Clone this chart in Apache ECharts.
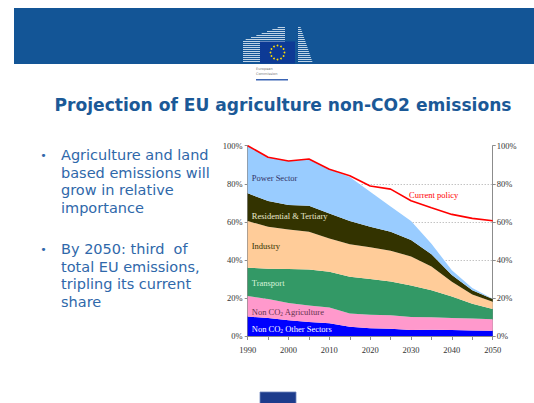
<!DOCTYPE html>
<html>
<head>
<meta charset="utf-8">
<script src="https://cdn.jsdelivr.net/npm/echarts@6/dist/echarts.min.js"></script>
<style>
  html, body { margin: 0; padding: 0; background: #ffffff; }
  #chart { width: 534px; height: 403px; }
</style>
</head>
<body>
<div id="chart"></div>
<script>
// Share of total EU greenhouse-gas emissions by sector (% of 1990 total), 5-year steps
const years = ['1990', '1995', '2000', '2005', '2010', '2015', '2020', '2025', '2030', '2035', '2040', '2045', '2050'];

// Stacked sector shares (bottom to top)
const otherSectors = [10.2, 9.4, 8.3, 7.3, 6.7, 4.8, 4.1, 3.8, 3.2, 3.3, 3.1, 2.9, 2.7];
const agriculture  = [10.8, 10.1, 9.0, 8.7, 8.3, 7.0, 7.1, 7.1, 6.8, 6.5, 6.4, 6.3, 6.1];
const transport    = [14.9, 15.9, 17.9, 18.9, 18.8, 19.4, 18.7, 17.7, 16.5, 14.2, 11.3, 7.8, 5.4];
const industry     = [24.5, 22.0, 20.7, 19.9, 17.5, 17.0, 16.7, 16.2, 15.3, 12.5, 7.7, 4.8, 3.8];
const residential  = [14.6, 13.5, 12.9, 13.7, 13.1, 12.2, 10.8, 10.0, 8.7, 6.5, 3.5, 2.2, 1.4];
const powerSector  = [25.0, 23.0, 23.2, 24.5, 23.2, 23.1, 18.4, 13.2, 9.9, 5.5, 2.5, 1.2, 0.2];

// Total emissions under current policy
const currentPolicy = [100, 93.9, 92.0, 93.0, 87.6, 84.2, 78.8, 77.2, 71.1, 67.4, 63.9, 61.8, 60.6];

const bulletOne = ['Agriculture and land', 'based emissions will', 'grow in relative', 'importance'];
const bulletTwo = ['By 2050: third  of', 'total EU emissions,', 'tripling its current', 'share'];

const serif = 'Liberation Serif';
const axisGrey = '#8c8c8c';

const chart = echarts.init(document.getElementById('chart'), null, { renderer: 'svg' });

function areaSeries(name, data, color) {
  return {
    name: name,
    type: 'line',
    stack: 'total',
    data: data,
    symbol: 'none',
    silent: true,
    lineStyle: { width: 0 },
    areaStyle: { color: color, opacity: 1 },
    z: 2
  };
}

function valueAxis(position, margin, showSplit) {
  return {
    type: 'value',
    position: position,
    min: 0,
    max: 100,
    interval: 20,
    axisLine: { show: true, lineStyle: { color: axisGrey, width: 1 } },
    axisTick: { show: true, length: 3, lineStyle: { color: axisGrey } },
    axisLabel: {
      formatter: '{value}%', fontFamily: serif, fontSize: 8.5, color: '#333333', margin: margin
    },
    splitLine: {
      show: showSplit, showMinLine: false, showMaxLine: false,
      lineStyle: { type: [1, 2], color: '#a8a8a8', width: 1 }
    }
  };
}

// Slide header: banner, emblem, title
const header = [];
header.push({ type: 'rect', shape: { x: 14, y: 8, width: 520, height: 56 }, style: { fill: '#135596' }, silent: true });

// building stripes behind the emblem
for (let y = 27; y <= 62; y += 2) {
  const xStart = y < 40 ? 243 + (40 - y) / 15 * 40 : 243;
  header.push({ type: 'rect', shape: { x: xStart, y: y, width: Math.max(0, 285 - xStart), height: 1 },
    style: { fill: 'rgba(235,242,250,0.8)' }, silent: true });
  const xEnd = 300 + (y - 25) / 38 * 13;
  header.push({ type: 'rect', shape: { x: 298, y: y, width: xEnd - 298, height: 1 },
    style: { fill: 'rgba(235,242,250,0.8)' }, silent: true });
}
// flag
header.push({ type: 'rect', shape: { x: 260, y: 41.5, width: 35, height: 22 }, style: { fill: '#0d3a95' }, silent: true });
for (let k = 0; k < 12; k++) {
  const a = k / 12 * Math.PI * 2;
  header.push({ type: 'circle', shape: { cx: 277.5 + 7 * Math.cos(a), cy: 52.5 + 7 * Math.sin(a), r: 0.9 },
    style: { fill: '#ffdd00' }, silent: true });
}
header.push({ type: 'rect', shape: { x: 255, y: 64, width: 36, height: 17 }, style: { fill: '#ffffff' }, silent: true });
header.push({ type: 'text', x: 256, y: 67, silent: true,
  style: { text: 'European\nCommission', fontFamily: 'DejaVu Sans', fontSize: 3.5, lineHeight: 4.5, fill: '#777777' } });
header.push({ type: 'rect', shape: { x: 256, y: 79, width: 32, height: 1.5 }, style: { fill: '#3a64b4' }, silent: true });

header.push({ type: 'text', x: 54.5, y: 105, silent: true,
  style: { text: 'Projection of EU agriculture non-CO2 emissions', fontFamily: 'DejaVu Sans', fontWeight: 'bold',
    fontSize: 17.1, fill: '#1b5997', verticalAlign: 'middle' } });

// Bulleted notes
function bullet(lines, topY) {
  return [
    { type: 'text', x: 43.5, y: topY + 8.75, silent: true,
      style: { text: '•', fontFamily: 'DejaVu Sans', fontSize: 11, fill: '#2f68aa', align: 'center', verticalAlign: 'middle' } },
    { type: 'text', x: 61, y: topY, silent: true,
      style: { text: lines.join('\n'), fontFamily: 'DejaVu Sans', fontSize: 14.5, lineHeight: 17.5, fill: '#2f68aa' } }
  ];
}
header.push(...bullet(bulletOne, 146.3));
header.push(...bullet(bulletTwo, 240.3));

// footer tab
header.push({ type: 'rect', shape: { x: 260, y: 392, width: 36, height: 12 }, style: { fill: '#1d3c8c', stroke: '#6f86bd', lineWidth: 0.8 }, silent: true });

chart.setOption({
  animation: false,
  backgroundColor: '#ffffff',
  grid: { left: 247.7, right: 41.3, top: 145.7, bottom: 67, containLabel: false },
  xAxis: {
    type: 'category',
    data: years,
    boundaryGap: false,
    axisLine: { show: true, lineStyle: { color: axisGrey } },
    axisTick: { show: true, interval: 0, length: 4, lineStyle: { color: axisGrey } },
    axisLabel: { interval: 1, fontFamily: serif, fontSize: 8.5, color: '#333333', margin: 9 },
    splitLine: { show: false }
  },
  yAxis: [valueAxis('left', 5, true), valueAxis('right', 4, false)],
  series: [
    areaSeries('Non CO2 Other Sectors', otherSectors, '#0000ff'),
    areaSeries('Non CO2 Agriculture', agriculture, '#ff99cc'),
    areaSeries('Transport', transport, '#339966'),
    areaSeries('Industry', industry, '#ffcc99'),
    areaSeries('Residential & Tertiary', residential, '#333300'),
    areaSeries('Power Sector', powerSector, '#99ccff'),
    {
      name: 'Current policy',
      type: 'line',
      data: currentPolicy,
      symbol: 'none',
      silent: true,
      lineStyle: { color: '#ff0000', width: 1.6 },
      z: 5
    }
  ],
  graphic: header
});

// Sector labels placed in data coordinates (fractional year index along the category axis)
const sectorLabels = [
  { text: 'Power Sector', at: [0.2, 83.1], color: '#333366' },
  { text: 'Residential & Tertiary', at: [0.2, 63.1], color: '#ebe9cf' },
  { text: 'Industry', at: [0.2, 47.3], color: '#333300' },
  { text: 'Transport', at: [0.2, 27.7], color: '#d9f5dc' },
  { text: 'Non CO{s|2} Agriculture', at: [0.2, 12.8], color: '#66334d' },
  { text: 'Non CO{s|2} Other Sectors', at: [0.2, 3.7], color: '#ffffff' },
  { text: 'Current policy', at: [7.9, 74.1], color: '#ff0000' }
];

function toPixel(at) {
  const i0 = Math.floor(at[0]);
  const f = at[0] - i0;
  const a = chart.convertToPixel({ gridIndex: 0 }, [i0, at[1]]);
  const b = chart.convertToPixel({ gridIndex: 0 }, [Math.min(i0 + 1, years.length - 1), at[1]]);
  return [a[0] + (b[0] - a[0]) * f, a[1]];
}

const labelGraphics = sectorLabels.map(function (l, i) {
  const p = toPixel(l.at);
  return {
    type: 'text', id: 'lbl' + i, x: p[0], y: p[1], z: 10, silent: true,
    style: {
      text: l.text, fontFamily: serif, fontSize: 8.5, lineHeight: 11, fill: l.color, verticalAlign: 'middle',
      rich: { s: { fontSize: 5.5, lineHeight: 6, verticalAlign: 'bottom', fill: l.color, fontFamily: serif } }
    }
  };
});

chart.setOption({ graphic: header.concat(labelGraphics) });
</script>
</body>
</html>
